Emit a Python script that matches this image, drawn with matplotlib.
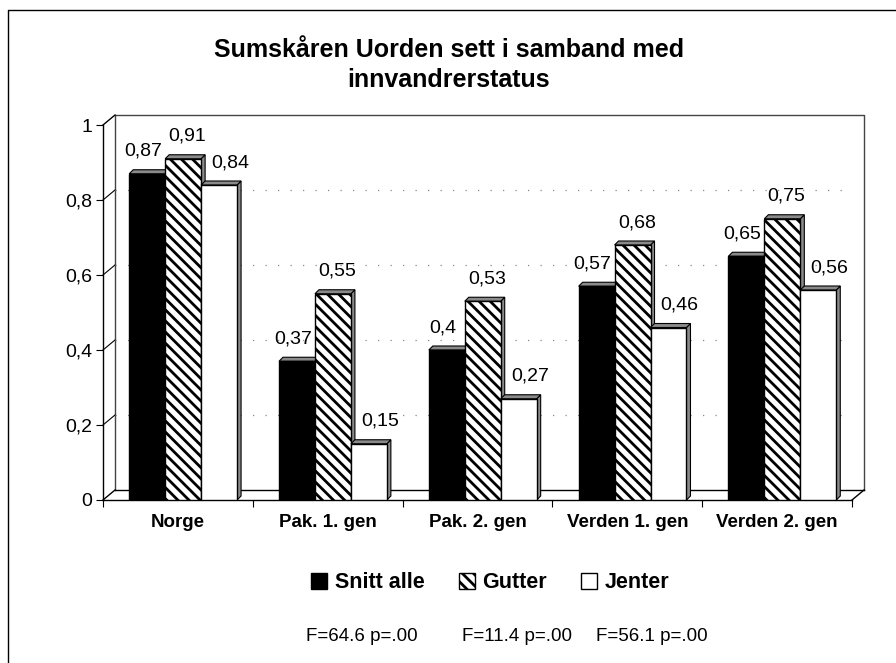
import matplotlib
matplotlib.use("Agg")
import matplotlib.pyplot as plt
from matplotlib.patches import Polygon, Patch
from matplotlib.lines import Line2D
from matplotlib.transforms import ScaledTranslation
import numpy as np

plt.rcParams['font.family'] = ['Liberation Sans', 'DejaVu Sans']
plt.rcParams['hatch.linewidth'] = 2.0

categories = ["Norge", "Pak. 1. gen", "Pak. 2. gen", "Verden 1. gen", "Verden 2. gen"]
series_names = ["Snitt alle", "Gutter", "Jenter"]
snitt_alle = [0.87, 0.37, 0.40, 0.57, 0.65]
gutter = [0.91, 0.55, 0.53, 0.68, 0.75]
jenter = [0.84, 0.15, 0.27, 0.46, 0.56]
value_labels = [
    ["0,87", "0,37", "0,4", "0,57", "0,65"],
    ["0,91", "0,55", "0,53", "0,68", "0,75"],
    ["0,84", "0,15", "0,27", "0,46", "0,56"],
]
yticks = [0, 0.2, 0.4, 0.6, 0.8, 1.0]
ytick_labels = ["0", "0,2", "0,4", "0,6", "0,8", "1"]
stats_text = ["F=64.6 p=.00", "F=11.4 p=.00", "F=56.1 p=.00"]

series = [snitt_alle, gutter, jenter]
faces = ["black", "white", "white"]
hatches = [None, "\\\\\\", None]
label_dx = [-3, 3, 8]

fig = plt.figure(figsize=(8.96, 6.63), dpi=100)
ax = fig.add_axes([103/896, 1 - 500/663, 749/896, 375/663])
ax.set_xlim(0, 5)
ax.set_ylim(0, 1)
for s in ax.spines.values():
    s.set_visible(False)

inv = ax.transData.inverted()
wall = ax.transData + ScaledTranslation(12/100, 10/100, fig.dpi_scale_trans)

def to_back(p):
    return inv.transform(wall.transform(p))

# Back wall and floor
ax.plot([0, 0, 5, 5], [0, 1, 1, 0], color="#444444", lw=1.0, transform=wall, clip_on=False, zorder=1)
ax.plot([0, 5], [0, 0], color="black", lw=1.0, transform=wall, clip_on=False, zorder=1)
for (xv, yv) in [(0, 0), (5, 0), (0, 1)]:
    q1 = to_back((xv, yv))
    ax.plot([xv, q1[0]], [yv, q1[1]], color="black", lw=1.0, clip_on=False, zorder=1)
for yv in yticks[1:-1]:
    q1 = to_back((0, yv))
    ax.plot([0, q1[0]], [yv, q1[1]], color="black", lw=0.8, clip_on=False, zorder=1)
for yv in yticks[1:-1]:
    ax.plot([0, 5], [yv, yv], color="#888888", lw=0.9, ls=(0, (1, 9)), transform=wall, zorder=1)

# front axes
ax.plot([0, 0], [0, 1], color="black", lw=1.0, clip_on=False, zorder=3)
ax.plot([0, 5], [0, 0], color="black", lw=1.0, clip_on=False, zorder=3)

ax.set_yticks(yticks)
ax.set_yticklabels(ytick_labels, fontsize=14)
ax.set_xticks(np.arange(0, 6))
ax.set_xticklabels([])
ax.set_xticks(np.arange(5) + 0.5, minor=True)
ax.set_xticklabels(categories, minor=True, fontsize=13.5, fontweight="bold")
ax.tick_params(axis="x", which="minor", length=0, pad=10)
ax.tick_params(axis="x", which="major", length=5, direction="out")
ax.tick_params(axis="y", length=5, direction="out", pad=3)

bw = 0.24
shift = 0.035
x = np.arange(5) + 0.5 + shift
offs = [-bw, 0, bw]
shade = ax.transData + ScaledTranslation(4/100, 4/100, fig.dpi_scale_trans)
for i, vals in enumerate(series):
    ax.bar(x + offs[i], vals, width=bw, color=faces[i], edgecolor="black",
           hatch=hatches[i], lw=1.0, zorder=4 + i)
    for j, v in enumerate(vals):
        left = x[j] + offs[i] - bw/2
        right = left + bw
        pts_front = [(right, 0), (right, v), (left, v)]
        pts_back = [inv.transform(shade.transform(p)) for p in pts_front]
        side = Polygon([pts_front[0], pts_back[0], pts_back[1], pts_front[1]],
                       closed=True, facecolor="#8a8a8a", edgecolor="black", lw=0.8, zorder=3 + i)
        top = Polygon([pts_front[2], pts_front[1], pts_back[1], pts_back[2]],
                      closed=True, facecolor="#8a8a8a", edgecolor="black", lw=0.8, zorder=3 + i)
        ax.add_patch(side)
        ax.add_patch(top)
        ax.annotate(value_labels[i][j], (x[j] + offs[i], v), xytext=(label_dx[i], 10),
                    textcoords="offset points", ha="center", va="bottom", fontsize=14, zorder=10)

fig.text(0.501, 0.942, "Sumskåren Uorden sett i samband med\ninnvandrerstatus",
         ha="center", va="top", fontsize=18, fontweight="bold", linespacing=1.3)

handles = [Patch(facecolor="black", edgecolor="black", label=series_names[0]),
           Patch(facecolor="white", edgecolor="black", hatch="\\\\\\", label=series_names[1]),
           Patch(facecolor="white", edgecolor="black", label=series_names[2])]
fig.legend(handles=handles, loc="center", bbox_to_anchor=(0.547, 0.1207), ncol=3,
           frameon=False, prop={"weight": "bold", "size": 15.5}, handlelength=0.75,
           handleheight=0.75, handletextpad=0.33, columnspacing=1.6)

for xp, t in zip([0.404, 0.577, 0.728], stats_text):
    fig.text(xp, 0.0407, t, ha="center", va="center", fontsize=13.5)

# outer frame (left and top edges visible in the reference)
fig.add_artist(Line2D([8/896, 8/896, 1.0], [0.0, 1 - 10/663, 1 - 10/663],
                      transform=fig.transFigure, color="black", lw=1.0))

fig.savefig("out.png", dpi=100)
